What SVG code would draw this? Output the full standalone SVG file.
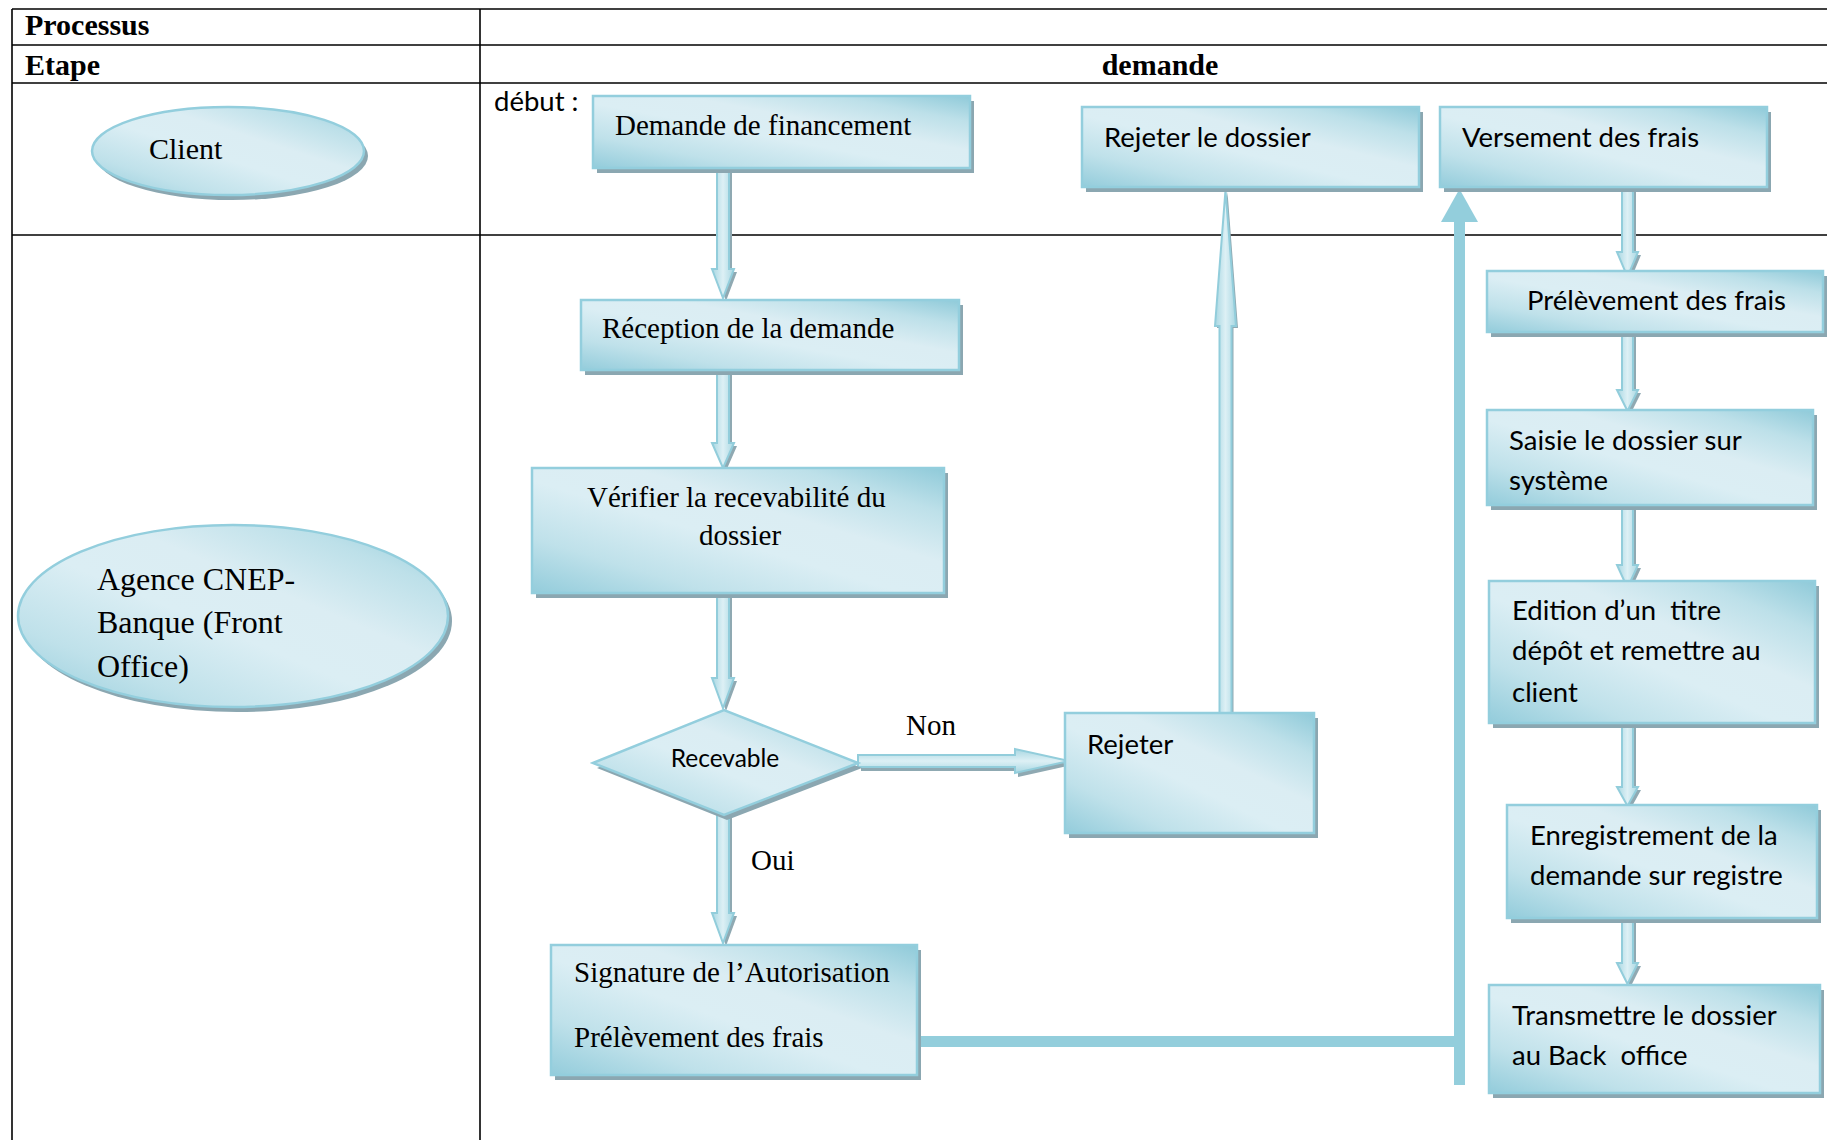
<svg xmlns="http://www.w3.org/2000/svg" width="1827" height="1140" viewBox="0 0 1827 1140">
  <defs>
    <!-- aqua diagonal fill used by the process shapes -->
    <linearGradient id="aqua" x1="0" y1="1" x2="1" y2="0">
      <stop offset="0" stop-color="#93ccdb"/>
      <stop offset="0.22" stop-color="#bfe1ea"/>
      <stop offset="0.45" stop-color="#dbeef4"/>
      <stop offset="0.62" stop-color="#dbedf3"/>
      <stop offset="0.82" stop-color="#bde0e9"/>
      <stop offset="1" stop-color="#8fcad9"/>
    </linearGradient>
    <!-- light fill for the hollow block arrows -->
    <linearGradient id="arrowV" x1="0" y1="0" x2="1" y2="0">
      <stop offset="0" stop-color="#a8d7e2"/>
      <stop offset="0.5" stop-color="#ddf0f5"/>
      <stop offset="1" stop-color="#a8d7e2"/>
    </linearGradient>
    <linearGradient id="arrowH" x1="0" y1="0" x2="0" y2="1">
      <stop offset="0" stop-color="#a8d7e2"/>
      <stop offset="0.5" stop-color="#ddf0f5"/>
      <stop offset="1" stop-color="#a8d7e2"/>
    </linearGradient>
  </defs>
  <style>
    .grid { stroke: #000; stroke-width: 1.6; fill: none; }
    .shadow { fill: #8ba7b1; }
    .shape { fill: url(#aqua); stroke: #93cedd; stroke-width: 2.5; }
    .arrV { fill: url(#arrowV); stroke: #92cddb; stroke-width: 2; }
    .arrH { fill: url(#arrowH); stroke: #92cddb; stroke-width: 2; }
    .ashadow { fill: #8fa9b2; }
    .solid { fill: #93cedc; }
    .serif { font-family: "Liberation Serif", "Times New Roman", serif; font-size: 29px; fill: #000; }
    .head { font-family: "Liberation Serif", "Times New Roman", serif; font-size: 30px; font-weight: bold; fill: #000; }
    .sans { font-family: Lato, "Liberation Sans", sans-serif; font-size: 27.5px; fill: #000; white-space: pre; }
  </style>

  <rect width="1827" height="1140" fill="#fff"/>

  <!-- table grid -->
  <g id="table">
    <line class="grid" x1="12" y1="9" x2="1827" y2="9"/>
    <line class="grid" x1="12" y1="45" x2="1827" y2="45"/>
    <line class="grid" x1="12" y1="83" x2="1827" y2="83"/>
    <line class="grid" x1="12" y1="235" x2="1827" y2="235"/>
    <line class="grid" x1="12" y1="9" x2="12" y2="1140"/>
    <line class="grid" x1="480" y1="9" x2="480" y2="1140"/>
    <text class="head" x="25" y="35">Processus</text>
    <text class="head" x="25" y="75">Etape</text>
    <text class="head" x="1160" y="75" text-anchor="middle">demande</text>
    <text class="sans" x="494" y="111">début :</text>
  </g>

  <!-- connectors -->
  <g id="connectors">
    <!-- Demande de financement -> Réception -->
    <path class="ashadow" transform="translate(3,3)" d="M717,170 L729,170 L729,269 L734,269 L723,298 L712,269 L717,269 Z"/>
    <path class="arrV" d="M717,170 L729,170 L729,269 L734,269 L723,298 L712,269 L717,269 Z"/>
    <!-- Réception -> Vérifier -->
    <path class="ashadow" transform="translate(3,3)" d="M717,370 L729,370 L729,443 L734,443 L723,468 L712,443 L717,443 Z"/>
    <path class="arrV" d="M717,370 L729,370 L729,443 L734,443 L723,468 L712,443 L717,443 Z"/>
    <!-- Vérifier -> Recevable -->
    <path class="ashadow" transform="translate(3,3)" d="M717,593 L729,593 L729,678 L734,678 L723,708 L712,678 L717,678 Z"/>
    <path class="arrV" d="M717,593 L729,593 L729,678 L734,678 L723,708 L712,678 L717,678 Z"/>
    <!-- Recevable -> Signature (Oui) -->
    <path class="ashadow" transform="translate(3,3)" d="M717,812 L729,812 L729,913 L734,913 L723,943 L712,913 L717,913 Z"/>
    <path class="arrV" d="M717,812 L729,812 L729,913 L734,913 L723,943 L712,913 L717,913 Z"/>
    <!-- Recevable -> Rejeter (Non) -->
    <path class="ashadow" transform="translate(3,4)" d="M858,755 L1015,755 L1015,749 L1069,761 L1015,773 L1015,767 L858,767 Z"/>
    <path class="arrH" d="M858,755 L1015,755 L1015,749 L1069,761 L1015,773 L1015,767 L858,767 Z"/>
    <!-- Rejeter -> Rejeter le dossier -->
    <path class="ashadow" transform="translate(2,2)" d="M1219.5,713 L1219.5,326 L1215,326 L1225.5,190 L1236,326 L1231.5,326 L1231.5,713 Z"/>
    <path class="arrV" d="M1219.5,713 L1219.5,326 L1215,326 L1225.5,190 L1236,326 L1231.5,326 L1231.5,713 Z"/>
    <!-- Signature -> Versement des frais (solid line) -->
    <rect class="solid" x="921" y="1036" width="544" height="11"/>
    <rect class="solid" x="1454" y="221" width="11" height="864"/>
    <polygon class="solid" points="1441,222 1478,222 1459.5,189"/>
    <!-- right column -->
    <path class="ashadow" transform="translate(3,3)" d="M1622,188 L1633,188 L1633,252 L1638,252 L1627.5,277 L1617,252 L1622,252 Z"/>
    <path class="arrV" d="M1622,188 L1633,188 L1633,252 L1638,252 L1627.5,277 L1617,252 L1622,252 Z"/>
    <path class="ashadow" transform="translate(3,3)" d="M1622,333 L1633,333 L1633,390 L1638,390 L1627.5,411 L1617,390 L1622,390 Z"/>
    <path class="arrV" d="M1622,333 L1633,333 L1633,390 L1638,390 L1627.5,411 L1617,390 L1622,390 Z"/>
    <path class="ashadow" transform="translate(3,3)" d="M1622,505 L1633,505 L1633,565 L1638,565 L1627.5,588 L1617,565 L1622,565 Z"/>
    <path class="arrV" d="M1622,505 L1633,505 L1633,565 L1638,565 L1627.5,588 L1617,565 L1622,565 Z"/>
    <path class="ashadow" transform="translate(3,3)" d="M1622,723 L1633,723 L1633,787 L1638,787 L1627.5,806 L1617,787 L1622,787 Z"/>
    <path class="arrV" d="M1622,723 L1633,723 L1633,787 L1638,787 L1627.5,806 L1617,787 L1622,787 Z"/>
    <path class="ashadow" transform="translate(3,3)" d="M1622,918 L1633,918 L1633,963 L1638,963 L1627.5,984 L1617,963 L1622,963 Z"/>
    <path class="arrV" d="M1622,918 L1633,918 L1633,963 L1638,963 L1627.5,984 L1617,963 L1622,963 Z"/>
    <text class="serif" x="906" y="735">Non</text>
    <text class="serif" x="751" y="870">Oui</text>
  </g>

  <!-- actors -->
  <g id="client">
    <ellipse class="shadow" cx="232" cy="156" rx="136" ry="44"/>
    <ellipse class="shape" cx="228" cy="151" rx="136" ry="44"/>
    <text class="serif" x="149" y="159" style="font-size:30px">Client</text>
  </g>
  <g id="agence">
    <ellipse class="shadow" cx="237" cy="621" rx="215" ry="91"/>
    <ellipse class="shape" cx="233" cy="616" rx="215" ry="91"/>
    <text class="serif" style="font-size:32px">
      <tspan x="97" y="590">Agence CNEP-</tspan>
      <tspan x="97" y="633">Banque (Front</tspan>
      <tspan x="97" y="677">Office)</tspan>
    </text>
  </g>

  <!-- process steps -->
  <g id="demande-financement">
    <rect class="shadow" x="597" y="101" width="377" height="72"/>
    <rect class="shape" x="593" y="96" width="377" height="72"/>
    <text class="serif" x="615" y="135">Demande de financement</text>
  </g>
  <g id="reception">
    <rect class="shadow" x="585" y="305" width="378" height="70"/>
    <rect class="shape" x="581" y="300" width="378" height="70"/>
    <text class="serif" x="602" y="338">Réception de la demande</text>
  </g>
  <g id="verifier">
    <rect class="shadow" x="536" y="473" width="412" height="125"/>
    <rect class="shape" x="532" y="468" width="412" height="125"/>
    <text class="serif" text-anchor="middle">
      <tspan x="740" y="507">Vérifier la recevabilité du</tspan>
      <tspan x="740" y="545">dossier</tspan>
    </text>
  </g>
  <g id="recevable">
    <polygon class="shadow" points="597,768 727,715 862,768 727,820"/>
    <polygon class="shape" points="593,763 724,710 858,763 724,815"/>
    <text class="sans" x="725" y="767" text-anchor="middle" style="font-size:24.5px">Recevable</text>
  </g>
  <g id="rejeter">
    <rect class="shadow" x="1069" y="718" width="249" height="120"/>
    <rect class="shape" x="1065" y="713" width="249" height="120"/>
    <text class="sans" x="1087" y="754">Rejeter</text>
  </g>
  <g id="signature">
    <rect class="shadow" x="555" y="950" width="366" height="130"/>
    <rect class="shape" x="551" y="945" width="366" height="130"/>
    <text class="serif" x="574" y="982">Signature de l’Autorisation</text>
    <text class="serif" x="574" y="1047">Prélèvement des frais</text>
  </g>
  <g id="rejeter-dossier">
    <rect class="shadow" x="1086" y="112" width="337" height="80"/>
    <rect class="shape" x="1082" y="107" width="337" height="80"/>
    <text class="sans" x="1104" y="147">Rejeter le dossier</text>
  </g>
  <g id="versement">
    <rect class="shadow" x="1444" y="112" width="327" height="80"/>
    <rect class="shape" x="1440" y="107" width="327" height="80"/>
    <text class="sans" x="1462" y="147">Versement des frais</text>
  </g>
  <g id="prelevement">
    <rect class="shadow" x="1491" y="276" width="336" height="61"/>
    <rect class="shape" x="1487" y="271" width="336" height="61"/>
    <text class="sans" x="1527" y="310">Prélèvement des frais</text>
  </g>
  <g id="saisie">
    <rect class="shadow" x="1491" y="415" width="326" height="95"/>
    <rect class="shape" x="1487" y="410" width="326" height="95"/>
    <text class="sans" x="1509" y="450">Saisie le dossier sur</text>
    <text class="sans" x="1509" y="490">système</text>
  </g>
  <g id="edition">
    <rect class="shadow" x="1493" y="586" width="326" height="142"/>
    <rect class="shape" x="1489" y="581" width="326" height="142"/>
    <text class="sans" x="1512" y="620">Edition d’un  titre</text>
    <text class="sans" x="1512" y="660">dépôt et remettre au</text>
    <text class="sans" x="1512" y="702">client</text>
  </g>
  <g id="enregistrement">
    <rect class="shadow" x="1511" y="810" width="310" height="113"/>
    <rect class="shape" x="1507" y="805" width="310" height="113"/>
    <text class="sans" x="1530" y="845">Enregistrement de la</text>
    <text class="sans" x="1530" y="885">demande sur registre</text>
  </g>
  <g id="transmettre">
    <rect class="shadow" x="1493" y="990" width="331" height="108"/>
    <rect class="shape" x="1489" y="985" width="331" height="108"/>
    <text class="sans" x="1512" y="1025">Transmettre le dossier</text>
    <text class="sans" x="1512" y="1065">au Back  office</text>
  </g>
</svg>
